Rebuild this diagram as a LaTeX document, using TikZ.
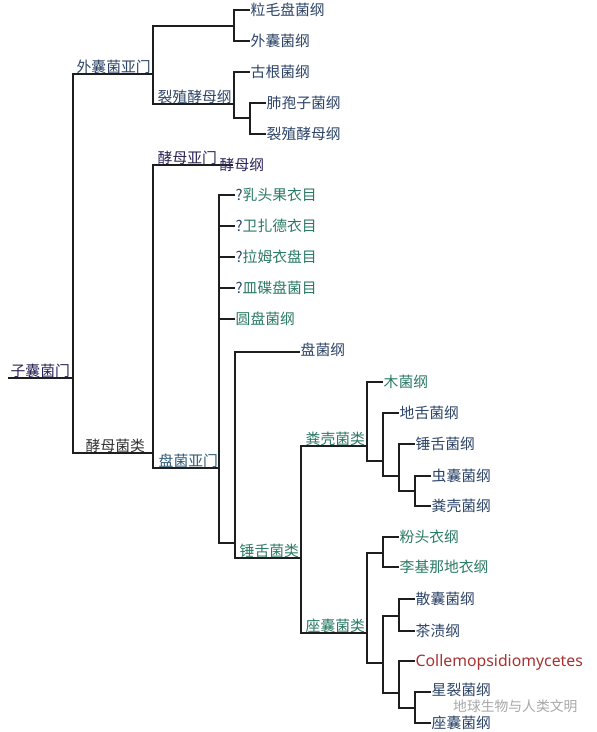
\documentclass[tikz,border=0pt]{standalone}
\usepackage{fontspec}
\setmainfont{Noto Sans CJK SC}
\newfontfamily\latinf{Noto Sans}
\definecolor{cblue}{HTML}{2D4468}
\definecolor{cgreen}{HTML}{2B7A66}
\definecolor{cnavy}{HTML}{2A2458}
\definecolor{cteal}{HTML}{2D5A78}
\definecolor{cgray}{HTML}{333333}
\definecolor{cred}{HTML}{A83232}
\definecolor{cline}{HTML}{1E1E1E}
\definecolor{cwm}{HTML}{A8A8A8}
\begin{document}
\begin{tikzpicture}[x=1pt,y=-1pt,
  br/.style={draw=cline,line width=1.1pt},
  lab/.style={anchor=base west,inner sep=0.5pt,font=\fontsize{14.8}{16}\selectfont,text=cblue},
  grn/.style={lab,text=cgreen}]
\useasboundingbox (0,0) rectangle (597,732);
\fill[white] (0,0) rectangle (597,732);
% junction coordinates
\coordinate (r0) at (8,378);
\coordinate (R) at (73,378);
\coordinate (E) at (153,74);
\coordinate (T1) at (234,26);
\coordinate (S) at (234,104);
\coordinate (S2) at (250,118);
\coordinate (Y) at (153,453);
\coordinate (YM) at (233,165);
\coordinate (P) at (219,468);
\coordinate (U) at (235,543);
\coordinate (H) at (301,558);
\coordinate (F) at (367,446);
\coordinate (F2) at (383,461);
\coordinate (F3) at (399,476);
\coordinate (F4) at (415,491);
\coordinate (D) at (367,633);
\coordinate (D1) at (383,553);
\coordinate (D2) at (383,663);
\coordinate (D3) at (399,616);
\coordinate (D4) at (399,693);
\coordinate (D5) at (415,708);
% leaf end coordinates
\coordinate (l1) at (250,10);
\coordinate (l2) at (250,41);
\coordinate (l3) at (250,72);
\coordinate (l4) at (266,103);
\coordinate (l5) at (266,134);
\coordinate (p1) at (235,195);
\coordinate (p2) at (235,226);
\coordinate (p3) at (235,257);
\coordinate (p4) at (235,288);
\coordinate (p5) at (235,319);
\coordinate (pz) at (300,352);
\coordinate (f1) at (383,382);
\coordinate (f2) at (399,413);
\coordinate (f3) at (415,444);
\coordinate (f4) at (431,476);
\coordinate (f5) at (431,506);
\coordinate (d1) at (399,537);
\coordinate (d2) at (399,567);
\coordinate (d3) at (415,599);
\coordinate (d4) at (415,631);
\coordinate (d5) at (415,661);
\coordinate (d6) at (431,692);
\coordinate (d7) at (431,723);
% connectors
\draw[br] (r0) -- (R);
\draw[br] (R) |- (E);
\draw[br] (R) |- (Y);
\draw[br] (E) |- (T1);
\draw[br] (E) |- (S);
\draw[br] (T1) |- (l1);
\draw[br] (T1) |- (l2);
\draw[br] (S) |- (l3);
\draw[br] (S) |- (S2);
\draw[br] (S2) |- (l4);
\draw[br] (S2) |- (l5);
\draw[br] (Y) |- (YM);
\draw[br] (Y) |- (P);
\foreach \c in {p1,p2,p3,p4,p5,U} \draw[br] (P) |- (\c);
\draw[br] (U) |- (pz);
\draw[br] (U) |- (H);
\draw[br] (H) |- (F);
\draw[br] (H) |- (D);
\draw[br] (F) |- (f1);
\draw[br] (F) |- (F2);
\draw[br] (F2) |- (f2);
\draw[br] (F2) |- (F3);
\draw[br] (F3) |- (f3);
\draw[br] (F3) |- (F4);
\draw[br] (F4) |- (f4);
\draw[br] (F4) |- (f5);
\draw[br] (D) |- (D1);
\draw[br] (D) |- (D2);
\draw[br] (D1) |- (d1);
\draw[br] (D1) |- (d2);
\draw[br] (D2) |- (D3);
\draw[br] (D2) |- (D4);
\draw[br] (D3) |- (d3);
\draw[br] (D3) |- (d4);
\draw[br] (D4) |- (d5);
\draw[br] (D4) |- (D5);
\draw[br] (D5) |- (d6);
\draw[br] (D5) |- (d7);
% clade labels
\node[lab,text=cnavy] (nR) at (10,376) {子囊菌门};
\node[lab] (nE) at (76,72) {外囊菌亚门};
\node[lab] (nS) at (157,102) {裂殖酵母纲};
\node[lab,text=cgray] (nY) at (85,451) {酵母菌类};
\node[lab,text=cnavy] (nYM) at (157,163) {酵母亚门};
\node[lab,text=cteal] (nP) at (158,466) {盘菌亚门};
\node[grn] (nH) at (239,556) {锤舌菌类};
\node[grn] (nF) at (305,444) {粪壳菌类};
\node[grn] (nD) at (305,631) {座囊菌类};
% leaf labels
\node[lab] (t1) at ([yshift=-5pt]l1) {粒毛盘菌纲};
\node[lab] (t2) at ([yshift=-5pt]l2) {外囊菌纲};
\node[lab] (t3) at ([yshift=-5pt]l3) {古根菌纲};
\node[lab] (t4) at ([yshift=-5pt]l4) {肺孢子菌纲};
\node[lab] (t5) at ([yshift=-5pt]l5) {裂殖酵母纲};
\node[lab,text=cnavy] (tym) at (219,170) {酵母纲};
\node[grn] (q1) at ([yshift=-5pt]p1) {\textcolor{cblue}{?}乳头果衣目};
\node[grn] (q2) at ([yshift=-5pt]p2) {\textcolor{cblue}{?}卫扎德衣目};
\node[grn] (q3) at ([yshift=-5pt]p3) {\textcolor{cblue}{?}拉姆衣盘目};
\node[grn] (q4) at ([yshift=-5pt]p4) {\textcolor{cblue}{?}皿碟盘菌目};
\node[grn] (q5) at ([yshift=-5pt]p5) {圆盘菌纲};
\node[lab] (qz) at ([yshift=-3pt]pz) {盘菌纲};
\node[grn] (g1) at ([yshift=-5pt]f1) {木菌纲};
\node[lab] (g2) at ([yshift=-5pt]f2) {地舌菌纲};
\node[lab] (g3) at ([yshift=-5pt]f3) {锤舌菌纲};
\node[lab] (g4) at ([yshift=-5pt]f4) {虫囊菌纲};
\node[lab] (g5) at ([yshift=-5pt]f5) {粪壳菌纲};
\node[grn] (h1) at ([yshift=-5pt]d1) {粉头衣纲};
\node[grn] (h2) at ([yshift=-5pt]d2) {李基那地衣纲};
\node[lab] (h3) at ([yshift=-5pt]d3) {散囊菌纲};
\node[lab] (h4) at ([yshift=-5pt]d4) {茶渍纲};
\node[lab,text=cred,font=\latinf\fontsize{15.8}{17}\selectfont] (h5) at ([yshift=-5.5pt]d5) {Collemopsidiomycetes};
\node[lab] (h6) at ([yshift=-3pt]d6) {星裂菌纲};
\node[lab] (h7) at ([yshift=-5pt]d7) {座囊菌纲};
% watermark
\node[anchor=base west,inner sep=0pt,text=cwm,font=\fontsize{13.8}{15}\selectfont] (wm) at (453,711) {地球生物与人类文明};
\end{tikzpicture}
\end{document}
